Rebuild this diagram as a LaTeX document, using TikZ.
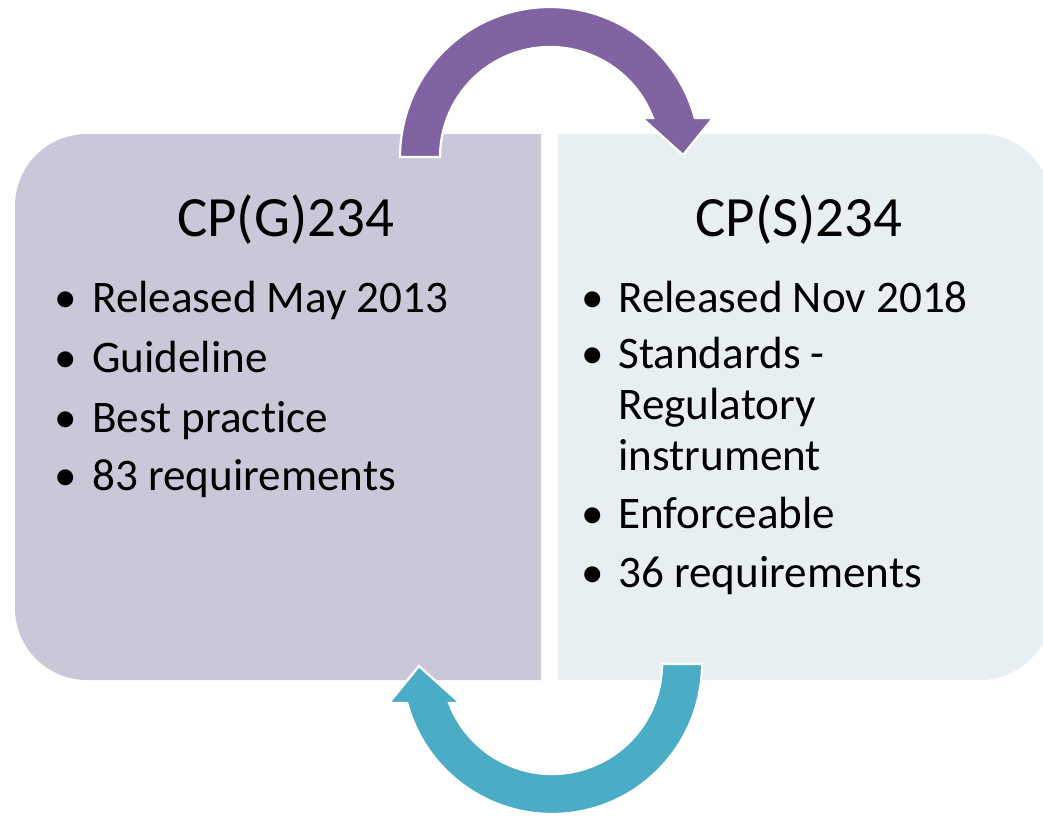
\documentclass[tikz,border=0pt]{standalone}
\usepackage{fontspec}
\setmainfont{Carlito}[Ligatures={NoCommon,NoContextual}]
\usetikzlibrary{calc}

\definecolor{guidefill}{HTML}{CCC6D9}
\definecolor{stdfill}{HTML}{E7EFF3}
\definecolor{arrowpurple}{HTML}{8064A2}
\definecolor{arrowblue}{HTML}{4BACC6}

\tikzset{
  boxfill/.style={fill=#1, draw=none},
  cyclearrow/.style={fill=#1, draw=white, line width=1.6pt, line join=miter},
  heading/.style={anchor=base, inner sep=0pt, text=black,
    font=\fontsize{40.5}{48}\selectfont},
  itemtext/.style={anchor=base west, inner sep=0pt, text=black,
    font=\fontsize{32.1}{38}\selectfont},
  itemdot/.style={anchor=base, inner sep=0pt, text=black,
    font=\fontsize{32.1}{38}\selectfont},
}

\begin{document}
\begin{tikzpicture}[x=0.025cm, y=0.025cm, yscale=-1]
  % page frame (pixel grid, y grows downward)
  \clip (0,0) rectangle (1043,816);
  \fill[white] (0,0) rectangle (1043,816);

  % left panel: rounded on the outer side only
  \path[boxfill=guidefill]
    (541,134) -- (87,134) arc[start angle=270, end angle=180, radius=72]
    -- (15,608) arc[start angle=180, end angle=90, radius=72]
    -- (541,680) -- cycle;

  % right panel
  \path[boxfill=stdfill]
    (558,134) -- (980,134) arc[start angle=270, end angle=360, radius=72]
    -- (1052,608) arc[start angle=0, end angle=90, radius=72]
    -- (558,680) -- cycle;

  % curved arrow over the top, from left panel to right panel
  \def\arrowpath{
    (400,157) arc[start angle=180, end angle=344.93, radius=150]
    -- (713,118) -- (683,155) -- (642,118)
    -- (652.9,118) arc[start angle=339.23, end angle=180, radius=110]
    -- cycle}
  \draw[cyclearrow=arrowpurple] \arrowpath;

  % the same arrow turned half a turn, running back along the bottom
  \draw[cyclearrow=arrowblue, rotate around={180:(551,410.5)}] \arrowpath;

  % headings
  \node[heading] (gtitle) at (285.5,236) {CP(G)234};
  \node[heading] (stitle) at (799,236) {CP(S)234};

  % left list
  \node[itemdot]  (gd1) at (66,312) {•};
  \node[itemtext] (gt1) at (92,312) {Released May 2013};
  \node[itemdot]  (gd2) at (66,372) {•};
  \node[itemtext] (gt2) at (92,372) {Guideline};
  \node[itemdot]  (gd3) at (66,432) {•};
  \node[itemtext] (gt3) at (92,432) {Best practice};
  \node[itemdot]  (gd4) at (66,490) {•};
  \node[itemtext] (gt4) at (92,490) {83 requirements};

  % right list
  \node[itemdot]  (sd1) at (593,312) {•};
  \node[itemtext] (st1) at (618,312) {Released Nov 2018};
  \node[itemdot]  (sd2) at (593,368) {•};
  \node[itemtext] (st2) at (618,368) {Standards -};
  \node[itemtext] (st2b) at (618,419) {Regulatory};
  \node[itemtext] (st2c) at (618,470) {instrument};
  \node[itemdot]  (sd3) at (593,528) {•};
  \node[itemtext] (st3) at (618,528) {Enforceable};
  \node[itemdot]  (sd4) at (593,587) {•};
  \node[itemtext] (st4) at (618,587) {36 requirements};
\end{tikzpicture}
\end{document}
